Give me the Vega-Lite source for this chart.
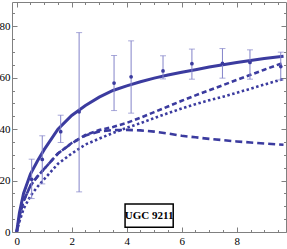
{
  "$schema": "https://vega.github.io/schema/vega-lite/v6.json",
  "width": 274,
  "height": 230,
  "autosize": {"type": "none"},
  "padding": {"left": 12, "top": 2, "right": 1, "bottom": 17},
  "background": "white",
  "config": {
    "view": {"stroke": "#808080", "strokeWidth": 1},
    "axis": {"grid": false, "domain": false, "title": null, "labelFont": "Liberation Serif", "labelFontSize": 11, "labelColor": "#000", "tickColor": "#808080", "tickWidth": 1}
  },
  "datasets": {
    "curves": [
      {"x": 0, "solid": 0, "disk": 0, "mid": 0, "halo": 0},
      {"x": 0.1, "solid": 7.5, "disk": 6, "mid": 6, "halo": 4},
      {"x": 0.25, "solid": 15, "disk": 12, "mid": 12, "halo": 9},
      {"x": 0.5, "solid": 22.5, "disk": 18, "mid": 18, "halo": 14},
      {"x": 0.75, "solid": 27.5, "disk": 21.5, "mid": 21.5, "halo": 17.5},
      {"x": 1, "solid": 32, "disk": 24.5, "mid": 24.5, "halo": 20.5},
      {"x": 1.5, "solid": 40, "disk": 30.5, "mid": 30.5, "halo": 26.5},
      {"x": 2, "solid": 45.3, "disk": 34.5, "mid": 34.6, "halo": 30.5},
      {"x": 2.5, "solid": 49.2, "disk": 37.5, "mid": 37.7, "halo": 34},
      {"x": 3, "solid": 52.4, "disk": 39.1, "mid": 39.6, "halo": 36.3},
      {"x": 3.5, "solid": 55, "disk": 39.6, "mid": 40.8, "halo": 38.5},
      {"x": 4, "solid": 56.8, "disk": 39.7, "mid": 42.4, "halo": 40.5},
      {"x": 4.5, "solid": 58.4, "disk": 39.5, "mid": 44.4, "halo": 42.3},
      {"x": 5, "solid": 59.8, "disk": 39, "mid": 46.6, "halo": 44.3},
      {"x": 5.5, "solid": 61, "disk": 38.3, "mid": 48.8, "halo": 46.2},
      {"x": 6, "solid": 62.1, "disk": 37.4, "mid": 51, "halo": 48},
      {"x": 6.5, "solid": 63.1, "disk": 36.8, "mid": 53.1, "halo": 49.7},
      {"x": 7, "solid": 64.1, "disk": 36.2, "mid": 55.1, "halo": 51.2},
      {"x": 7.5, "solid": 65, "disk": 35.7, "mid": 57.1, "halo": 52.6},
      {"x": 8, "solid": 65.9, "disk": 35.2, "mid": 59.1, "halo": 54.1},
      {"x": 8.5, "solid": 66.7, "disk": 34.8, "mid": 61.1, "halo": 55.7},
      {"x": 9, "solid": 67.4, "disk": 34.4, "mid": 63.1, "halo": 57.3},
      {"x": 9.7, "solid": 68.3, "disk": 33.9, "mid": 65.8, "halo": 59.5}
    ],
    "obs": [
      {"x": 0.545, "v": 20.5, "lo": 13, "hi": 28.3},
      {"x": 0.93, "v": 28.2, "lo": 18.7, "hi": 37.4},
      {"x": 1.6, "v": 39, "lo": 34.8, "hi": 45.4},
      {"x": 2.27, "v": 46.7, "lo": 15.6, "hi": 77.5},
      {"x": 3.54, "v": 57.9, "lo": 47.2, "hi": 68.6},
      {"x": 4.16, "v": 60.3, "lo": 46.2, "hi": 74.3},
      {"x": 5.32, "v": 62.6, "lo": 59.5, "hi": 68.5},
      {"x": 6.37, "v": 65.4, "lo": 59.4, "hi": 71.1},
      {"x": 7.48, "v": 65.5, "lo": 59.8, "hi": 71.3},
      {"x": 8.48, "v": 65.9, "lo": 59.4, "hi": 70.8},
      {"x": 9.6, "v": 64.3, "lo": 59.1, "hi": 69.9}
    ],
    "label": [{"name": "UGC 9211"}]
  },
  "resolve": {"axis": {"x": "independent", "y": "independent"}},
  "layer": [
    {
      "data": {"name": "curves"},
      "mark": {"type": "line", "color": "#3b3b9f", "strokeWidth": 3, "clip": true},
      "encoding": {
        "x": {"field": "x", "type": "quantitative", "scale": {"domain": [-0.17, 9.79], "nice": false, "zero": false},
              "axis": {"orient": "bottom", "values": [0, 2, 4, 6, 8], "tickSize": -5, "labelPadding": 8}},
        "y": {"field": "solid", "type": "quantitative", "scale": {"domain": [0, 89.4], "nice": false},
              "axis": {"orient": "left", "values": [0, 20, 40, 60, 80], "tickSize": -5, "labelPadding": 7}}
      }
    },
    {
      "data": {"name": "curves"},
      "mark": {"type": "line", "color": "#3b3b9f", "strokeWidth": 2.6, "strokeDash": [7, 4], "clip": true},
      "encoding": {
        "x": {"field": "x", "type": "quantitative", "axis": {"orient": "top", "values": [0, 2, 4, 6, 8], "tickSize": -5, "labels": false}},
        "y": {"field": "disk", "type": "quantitative", "axis": {"orient": "right", "values": [0, 20, 40, 60, 80], "tickSize": -5, "labels": false}}
      }
    },
    {
      "data": {"name": "curves"},
      "mark": {"type": "line", "color": "#3b3b9f", "strokeWidth": 2.6, "strokeDash": [5, 3], "clip": true},
      "encoding": {
        "x": {"field": "x", "type": "quantitative", "axis": {"orient": "bottom", "values": [0.5, 1, 1.5, 2.5, 3, 3.5, 4.5, 5, 5.5, 6.5, 7, 7.5, 8.5, 9, 9.5], "tickSize": -2.5, "labels": false}},
        "y": {"field": "mid", "type": "quantitative", "axis": {"orient": "left", "values": [5, 10, 15, 25, 30, 35, 45, 50, 55, 65, 70, 75, 85], "tickSize": -2.5, "labels": false}}
      }
    },
    {
      "data": {"name": "curves"},
      "mark": {"type": "line", "color": "#3b3b9f", "strokeWidth": 2.6, "strokeDash": [2.5, 2.5], "clip": true},
      "encoding": {
        "x": {"field": "x", "type": "quantitative", "axis": {"orient": "top", "values": [0.5, 1, 1.5, 2.5, 3, 3.5, 4.5, 5, 5.5, 6.5, 7, 7.5, 8.5, 9, 9.5], "tickSize": -2.5, "labels": false}},
        "y": {"field": "halo", "type": "quantitative", "axis": {"orient": "right", "values": [5, 10, 15, 25, 30, 35, 45, 50, 55, 65, 70, 75, 85], "tickSize": -2.5, "labels": false}}
      }
    },
    {
      "data": {"name": "obs"},
      "mark": {"type": "rule", "color": "#8383c9", "strokeWidth": 1},
      "encoding": {
        "x": {"field": "x", "type": "quantitative", "axis": null},
        "y": {"field": "lo", "type": "quantitative", "axis": null},
        "y2": {"field": "hi"}
      }
    },
    {
      "data": {"name": "obs"},
      "mark": {"type": "tick", "orient": "horizontal", "color": "#8383c9", "thickness": 1, "size": 6},
      "encoding": {
        "x": {"field": "x", "type": "quantitative", "axis": null},
        "y": {"field": "lo", "type": "quantitative", "axis": null}
      }
    },
    {
      "data": {"name": "obs"},
      "mark": {"type": "tick", "orient": "horizontal", "color": "#8383c9", "thickness": 1, "size": 6},
      "encoding": {
        "x": {"field": "x", "type": "quantitative", "axis": null},
        "y": {"field": "hi", "type": "quantitative", "axis": null}
      }
    },
    {
      "data": {"name": "obs"},
      "mark": {"type": "circle", "color": "#3b3b9f", "size": 14, "opacity": 1},
      "encoding": {
        "x": {"field": "x", "type": "quantitative", "axis": null},
        "y": {"field": "v", "type": "quantitative", "axis": null}
      }
    },
    {
      "data": {"name": "label"},
      "mark": {"type": "rect", "fill": "white", "stroke": "black", "strokeWidth": 1.5},
      "encoding": {
        "x": {"datum": 3.94, "type": "quantitative", "axis": null},
        "x2": {"datum": 5.69},
        "y": {"datum": 10.9, "type": "quantitative", "axis": null},
        "y2": {"datum": 1.8}
      }
    },
    {
      "data": {"name": "label"},
      "mark": {"type": "text", "font": "Liberation Serif", "fontSize": 11, "fontWeight": "bold", "color": "black", "align": "center", "baseline": "middle"},
      "encoding": {
        "text": {"field": "name"},
        "x": {"datum": 4.815, "type": "quantitative", "axis": null},
        "y": {"datum": 6.35, "type": "quantitative", "axis": null}
      }
    }
  ]
}
